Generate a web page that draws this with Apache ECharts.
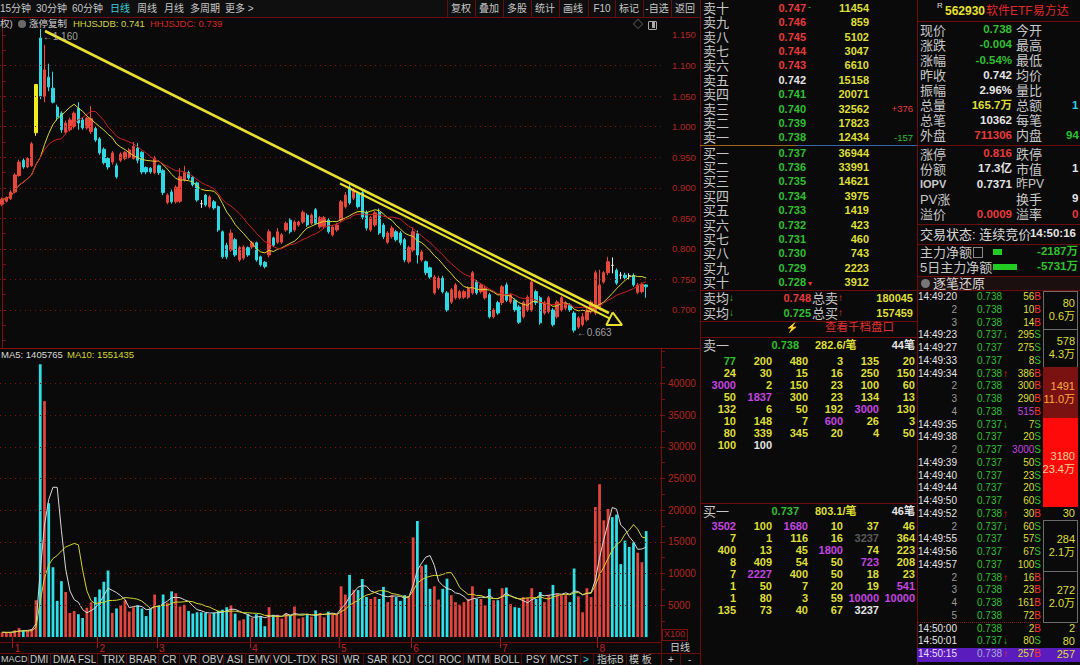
<!DOCTYPE html>
<html><head><meta charset="utf-8">
<script src="https://cdn.jsdelivr.net/npm/echarts@6/dist/echarts.min.js"></script>
<style>
html,body{margin:0;padding:0;background:#0a0a0a;}
#wrap{position:relative;width:1080px;height:665px;overflow:hidden;background:#0a0a0a;}
#chart{position:absolute;left:0;top:0;width:700px;height:665px;}
#ui{position:absolute;left:0;top:0;width:1080px;height:665px;pointer-events:none;overflow:hidden;}
.t{position:absolute;white-space:nowrap;font-family:'Liberation Sans','Noto Sans CJK SC',sans-serif;}
</style></head><body><div id="wrap"><div id="chart"></div><div id="ui"></div></div>
<script>
// ---------------- DATA ----------------
const opens = [
0.873,0.878,0.882,0.893,0.920,0.945,0.934,0.936,0.990,1.145,
1.049,1.081,1.063,1.032,1.022,0.991,0.995,1.000,1.030,1.011,
0.998,0.992,0.997,0.980,0.963,0.948,0.942,0.936,0.945,0.948,
0.950,0.948,0.965,0.958,0.933,0.932,0.925,0.936,0.928,0.876,
0.893,0.877,0.878,0.913,0.925,0.917,0.908,0.874,0.888,0.869,
0.877,0.869,0.828,0.806,0.798,0.815,0.782,0.785,0.802,0.803,
0.810,0.787,0.778,0.790,0.818,0.811,0.811,0.831,0.847,0.831,
0.839,0.844,0.855,0.842,0.864,0.836,0.837,0.847,0.823,0.831,
0.847,0.869,0.901,0.883,0.891,0.892,0.860,0.831,0.839,0.860,
0.839,0.811,0.820,0.828,0.826,0.815,0.779,0.798,0.825,0.782,
0.779,0.769,0.728,0.736,0.752,0.728,0.713,0.720,0.720,0.721,
0.721,0.728,0.746,0.730,0.720,0.725,0.689,0.712,0.712,0.741,
0.713,0.716,0.705,0.689,0.700,0.700,0.730,0.720,0.695,0.697,
0.700,0.689,0.700,0.703,0.708,0.695,0.672,0.676,0.684,0.697,
0.695,0.705,0.746,0.761,0.773,0.765,0.757,0.757,0.756,0.756,
0.729,0.730,0.741];
const closes = [
0.881,0.884,0.893,0.921,0.942,0.934,0.948,0.972,1.069,1.050,
1.093,1.065,1.040,1.016,0.995,1.006,1.011,1.022,1.006,0.998,
1.014,1.013,0.978,0.957,0.941,0.934,0.957,0.918,0.955,0.958,
0.962,0.968,0.945,0.926,0.926,0.926,0.948,0.925,0.892,0.888,
0.877,0.901,0.918,0.925,0.916,0.905,0.880,0.874,0.872,0.885,
0.867,0.831,0.787,0.787,0.826,0.790,0.802,0.803,0.790,0.810,
0.782,0.774,0.771,0.828,0.806,0.828,0.823,0.842,0.828,0.844,
0.844,0.860,0.839,0.855,0.842,0.851,0.851,0.828,0.836,0.839,
0.877,0.888,0.875,0.896,0.869,0.852,0.834,0.851,0.859,0.826,
0.820,0.826,0.834,0.815,0.810,0.782,0.802,0.828,0.790,0.795,
0.761,0.754,0.754,0.752,0.730,0.700,0.733,0.741,0.730,0.730,
0.736,0.761,0.728,0.741,0.736,0.689,0.700,0.695,0.738,0.716,
0.725,0.700,0.680,0.712,0.721,0.746,0.712,0.679,0.712,0.720,
0.676,0.713,0.720,0.712,0.700,0.667,0.687,0.689,0.700,0.713,
0.761,0.741,0.761,0.779,0.773,0.744,0.757,0.753,0.756,0.741,
0.741,0.742,0.738];
const lows = [
0.870,0.876,0.880,0.891,0.918,0.931,0.932,0.934,0.985,1.045,
1.040,1.058,1.038,1.010,0.990,0.988,0.992,0.997,0.995,0.995,
0.995,0.988,0.975,0.954,0.938,0.930,0.938,0.915,0.942,0.945,
0.948,0.946,0.940,0.922,0.922,0.923,0.922,0.921,0.888,0.873,
0.874,0.874,0.875,0.910,0.913,0.902,0.877,0.867,0.869,0.866,
0.864,0.828,0.784,0.783,0.795,0.787,0.779,0.782,0.787,0.800,
0.779,0.771,0.768,0.786,0.803,0.808,0.808,0.828,0.825,0.828,
0.836,0.841,0.836,0.839,0.839,0.833,0.834,0.825,0.820,0.828,
0.844,0.866,0.872,0.880,0.866,0.848,0.830,0.828,0.836,0.823,
0.816,0.808,0.817,0.812,0.806,0.778,0.776,0.795,0.776,0.779,
0.757,0.751,0.725,0.733,0.727,0.697,0.710,0.717,0.717,0.718,
0.718,0.725,0.725,0.727,0.717,0.686,0.686,0.692,0.708,0.713,
0.710,0.697,0.677,0.686,0.697,0.697,0.708,0.676,0.692,0.694,
0.673,0.686,0.697,0.700,0.697,0.663,0.669,0.673,0.681,0.694,
0.692,0.700,0.743,0.757,0.760,0.741,0.750,0.750,0.750,0.738,
0.726,0.727,0.720];
const highs = [
0.884,0.886,0.896,0.924,0.946,0.948,0.950,0.975,1.069,1.160,
1.134,1.103,1.090,1.036,1.025,1.010,1.015,1.025,1.040,1.015,
1.016,1.034,1.000,0.983,0.966,0.950,0.960,0.940,0.958,0.960,
0.965,0.975,0.973,0.960,0.935,0.934,0.952,0.938,0.931,0.891,
0.897,0.904,0.932,0.936,0.928,0.919,0.910,0.880,0.890,0.888,
0.880,0.871,0.830,0.810,0.832,0.818,0.805,0.806,0.804,0.813,
0.812,0.789,0.780,0.832,0.820,0.834,0.826,0.845,0.850,0.847,
0.846,0.863,0.858,0.858,0.867,0.854,0.854,0.850,0.839,0.842,
0.880,0.893,0.907,0.899,0.894,0.895,0.863,0.854,0.862,0.866,
0.842,0.829,0.838,0.831,0.829,0.818,0.805,0.835,0.830,0.798,
0.781,0.771,0.757,0.756,0.756,0.731,0.736,0.744,0.733,0.733,
0.739,0.764,0.749,0.744,0.739,0.728,0.703,0.715,0.741,0.745,
0.728,0.719,0.708,0.715,0.724,0.751,0.733,0.723,0.715,0.723,
0.703,0.716,0.723,0.715,0.711,0.698,0.690,0.695,0.703,0.716,
0.765,0.766,0.764,0.787,0.786,0.768,0.762,0.761,0.760,0.760,
0.744,0.745,0.742];
const volumes = [
750,700,750,1050,1400,1050,950,1250,5800,43000,
37200,21100,11000,5700,8800,7100,3800,4100,3600,3000,
4600,5500,6300,7500,8700,10500,3800,4500,5000,5800,
4000,4700,5000,4500,3300,4500,6700,5000,6700,5400,
7200,6900,4800,5100,4100,3700,3900,3900,3800,3600,
3800,4100,4300,4700,5000,3700,2600,2800,3600,3000,
3600,3300,1700,4700,3500,3500,2900,3800,3500,4800,
2900,3100,3500,3200,4200,3800,3100,4000,3700,3500,
8000,6700,9800,7400,7400,9150,6300,6000,6300,6000,
7900,5500,6600,6300,5700,6600,6400,15700,18300,11200,
11400,7600,8000,5900,7600,9200,6600,5500,5100,5500,
6000,8000,6000,6000,5000,7600,5800,5800,7700,7800,
5200,4700,4600,6300,6200,7700,6000,7100,5500,6600,
8200,6800,6600,6600,5500,10800,6400,3900,7700,6300,
20500,24100,18400,20200,18900,19300,11500,15200,14200,14900,
13300,11800,16700];
const limitUpDays = [8];
const monthStarts = [3, 23, 37, 59, 80, 97, 118, 141];
const monthNames = ['1','2','3','4','5','6','7','8'];
const priceLabels = [0.70,0.75,0.80,0.85,0.90,0.95,1.00,1.05,1.10,1.15];
const priceTicks = [0.650,0.675,0.700,0.725,0.750,0.775,0.800,0.825,0.850,0.875,0.900,0.925,0.950,0.975,1.000,1.025,1.050,1.075,1.100,1.125,1.150,1.175];
const priceGridVals = [0.70,0.75,0.80,0.85,0.90,0.95,1.00,1.05,1.10];
const volLabels = [5000,10000,15000,20000,25000,30000,35000,40000];
const volTicks = [2500,5000,7500,10000,12500,15000,17500,20000,22500,25000,27500,30000,32500,35000,37500,40000,42500,45000];
// user-drawn trend lines, in [candle index, price]
const trendA = [[10.12, 1.1565], [143.2, 0.6951]];
const trendB = [[79.74, 0.9070], [143.35, 0.6862]];
const arrowHead = [[144.1, 0.6961], [146.3, 0.6755], [142.6, 0.6755], [144.1, 0.6961]];

// ---------------- CHART ----------------
const N_SLOTS = 156;
const PRICE_MIN = 0.6378, PRICE_MAX = 1.1778, VOL_MAX = 45580;
const RED = '#e8473c', CYAN = '#2fd8e2', YELLOW_BAR = '#f0ec1c';
const AXR = '#7a1010';
const FF = "'Liberation Sans','Noto Sans CJK SC',sans-serif";

const cats = [], monthAt = [];
for (let i = 0; i < N_SLOTS; i++) {
  cats.push('d' + i);
  const k = monthStarts.indexOf(i);
  monthAt.push(k >= 0 ? monthNames[k] : '');
}
const isStart = (i) => monthStarts.indexOf(i) >= 0;

function ma(arr, n) {
  return arr.map((_, i) => {
    const s = Math.max(0, i - n + 1);
    let sum = 0;
    for (let k = s; k <= i; k++) sum += arr[k];
    return +(sum / (i - s + 1)).toFixed(4);
  });
}

const candleData = opens.map((o, i) => {
  const v = [o, closes[i], lows[i], highs[i]];
  if (limitUpDays.indexOf(i) >= 0) {
    return {value: v, itemStyle: {color: YELLOW_BAR, color0: YELLOW_BAR, borderColor: YELLOW_BAR, borderColor0: YELLOW_BAR}};
  }
  return v;
});
const volData = volumes.map((v, i) => ({
  value: v,
  itemStyle: {color: closes[i] > opens[i] ? '#e2453b' : '#2fe0e8'}
}));

const hiIdx = highs.indexOf(Math.max.apply(null, highs));
const loIdx = lows.indexOf(Math.min.apply(null, lows));

const chart = echarts.init(document.getElementById('chart'), null, {renderer: 'svg', width: 700, height: 665});
chart.setOption({
  backgroundColor: 'transparent',
  animation: false,
  textStyle: {fontFamily: FF},
  grid: [
    {left: 0, top: 18, width: 661, height: 330},
    {left: 0, top: 348, width: 661, height: 289}
  ],
  xAxis: [
    {type: 'category', gridIndex: 0, data: cats, boundaryGap: true, show: false},
    {type: 'category', gridIndex: 1, data: cats, boundaryGap: true, offset: 5,
      axisLine: {show: false},
      axisTick: {show: true, interval: (i) => isStart(i), length: 11, lineStyle: {color: '#a81a1a'}},
      axisLabel: {interval: (i) => isStart(i), formatter: (v, i) => monthAt[i], color: '#c42020', fontSize: 10, margin: 1, align: 'left'},
      splitLine: {show: false}},
    {type: 'value', gridIndex: 0, min: -0.5, max: N_SLOTS - 0.5, show: false}
  ],
  yAxis: [
    {type: 'value', gridIndex: 0, position: 'right', min: PRICE_MIN, max: PRICE_MAX,
      axisLine: {show: true, lineStyle: {color: AXR}},
      axisTick: {show: true, length: 4, customValues: priceTicks, lineStyle: {color: AXR}},
      axisLabel: {customValues: priceLabels, formatter: (v) => v.toFixed(3), color: '#b4261e', fontSize: 9.5, margin: 11},
      splitLine: {show: false}},
    {type: 'value', gridIndex: 1, position: 'right', min: 0, max: VOL_MAX,
      axisLine: {show: true, lineStyle: {color: AXR}},
      axisTick: {show: true, length: 4, customValues: volTicks, lineStyle: {color: AXR}},
      axisLabel: {customValues: volLabels, formatter: (v) => String(v), color: '#b4261e', fontSize: 10, margin: 7},
      splitLine: {show: false}}
  ],
  series: [
    {type: 'candlestick', xAxisIndex: 0, yAxisIndex: 0, data: candleData, barWidth: '68%',
      itemStyle: {color: RED, color0: CYAN, borderColor: RED, borderColor0: CYAN, borderColorDoji: '#e6e6e6', borderWidth: 1},
      markLine: {silent: true, symbol: ['none', 'none'], animation: false, label: {show: false},
        lineStyle: {color: '#7a1717', type: [1, 4], width: 1},
        data: priceGridVals.map((v) => ({yAxis: v}))}},
    {type: 'line', name: 'HHJSJDB', xAxisIndex: 0, yAxisIndex: 0, data: ma(closes, 10), symbol: 'none', silent: true,
      lineStyle: {color: '#d8d830', width: 1}, z: 3},
    {type: 'line', name: 'HHJSJDC', xAxisIndex: 0, yAxisIndex: 0, data: ma(closes, 15), symbol: 'none', silent: true,
      lineStyle: {color: '#cc2222', width: 1}, z: 3},
    {type: 'line', xAxisIndex: 2, yAxisIndex: 0, data: trendA, symbol: 'none', silent: true,
      lineStyle: {color: '#e8e02c', width: 2.6}, z: 6},
    {type: 'line', xAxisIndex: 2, yAxisIndex: 0, data: trendB, symbol: 'none', silent: true,
      lineStyle: {color: '#e8e02c', width: 2}, z: 6},
    {type: 'line', xAxisIndex: 2, yAxisIndex: 0, data: arrowHead, symbol: 'none', silent: true,
      lineStyle: {color: '#e8e02c', width: 2}, z: 6},
    {type: 'scatter', xAxisIndex: 2, yAxisIndex: 0, symbolSize: 1, silent: true, z: 7,
      itemStyle: {color: 'rgba(0,0,0,0)'},
      label: {show: true, position: 'right', distance: 1, color: '#c8c8c8', fontSize: 10,
        formatter: (p) => '\u2190' + p.value[1].toFixed(3)},
      data: [
        {value: [hiIdx, highs[hiIdx]], label: {offset: [1, 8]}},
        {value: [loIdx, lows[loIdx]], label: {offset: [1, 0]}}
      ]},
    {type: 'bar', xAxisIndex: 1, yAxisIndex: 1, data: volData, barWidth: '65%',
      markLine: {silent: true, symbol: ['none', 'none'], animation: false, label: {show: false},
        lineStyle: {color: '#7a1717', type: [1, 4], width: 1},
        data: volLabels.map((v) => ({yAxis: v}))}},
    {type: 'line', xAxisIndex: 1, yAxisIndex: 1, data: ma(volumes, 5), symbol: 'none', silent: true,
      lineStyle: {color: '#d8d8d8', width: 1}, z: 3},
    {type: 'line', xAxisIndex: 1, yAxisIndex: 1, data: ma(volumes, 10), symbol: 'none', silent: true,
      lineStyle: {color: '#d4d42c', width: 1}, z: 3}
  ]
});

// ---------------- PANELS (HTML text) ----------------
const ui = document.getElementById('ui');
function t(x, y, s, color, o) {
  o = o || {};
  const d = document.createElement('div');
  d.className = 't';
  const fs = o.fs || 11, lh = fs + 4;
  if (Array.isArray(s)) {
    s.forEach((seg) => { const sp = document.createElement('span'); sp.textContent = seg[0]; sp.style.color = seg[1]; d.appendChild(sp); });
  } else { d.textContent = s; d.style.color = color; }
  let css = 'font-size:' + fs + 'px;line-height:' + lh + 'px;height:' + lh + 'px;top:' + (y - lh / 2).toFixed(1) + 'px;';
  if (o.b) css += 'font-weight:bold;';
  if (o.a === 'r') css += 'right:' + (1080 - x) + 'px;';
  else if (o.a === 'c') css += 'left:' + x + 'px;transform:translateX(-50%);';
  else css += 'left:' + x + 'px;';
  d.style.cssText += css;
  ui.appendChild(d);
}
function r(x, y, w, h, bg, extra) {
  const d = document.createElement('div');
  d.style.cssText = 'position:absolute;left:' + x + 'px;top:' + y + 'px;width:' + w + 'px;height:' + h + 'px;background:' + bg + ';' + (extra || '');
  ui.appendChild(d);
}
const L = '#6e0c0c';
const GY = '#c8c8c8', YL = '#dede36', GN = '#30c030', WH = '#e4e4e4', PU = '#c444e0', RD = '#e83a3a';

// toolbar
r(0, 0, 700, 17, '#0f0f0f');
r(0, 17, 700, 1, L);
const tbLeft = [['15分钟', 0, GY], ['30分钟', 36, GY], ['60分钟', 72, GY], ['日线', 110, '#3ccfdc'], ['周线', 137, GY], ['月线', 164, GY], ['多周期', 190, GY], ['更多 >', 225, GY]];
tbLeft.forEach((a) => t(a[1], 8.5, a[0], a[2], {fs: 10}));
const tbRight = [['复权', 461], ['叠加', 489], ['多股', 517], ['统计', 545], ['画线', 573], ['F10', 602], ['标记', 629], ['-自选', 657], ['返回', 685]];
[447, 475, 503, 531, 559, 588, 615, 643, 671].forEach((x) => r(x, 0, 1, 17, '#6a0c0c'));
tbRight.forEach((a) => t(a[1], 8.5, a[0], GY, {fs: 10, a: 'c'}));

// chart legends
t(0, 24, '权)', GY, {fs: 9.5});
r(18, 20, 8, 8, '#6a6a6a', 'border-radius:50%;');
t(29, 24, '涨停复制', '#d0d0d0', {fs: 9.5});
t(73, 24, 'HHJSJDB: 0.741', '#d6d63a', {fs: 9.5});
t(150, 24, 'HHJSJDC: 0.739', '#d42828', {fs: 9.5});
t(633, 25, '\u25C7', '#aaaaaa', {fs: 10});
r(648, 21, 7, 7, 'transparent', 'border:1px solid #aaa;border-radius:1px;');
r(652, 22, 3, 6, '#aaa');
r(0, 348, 700, 1, '#8a1010');
t(1, 355, 'MA5: 1405765', '#d8d8d8', {fs: 9.5});
t(67, 355, 'MA10: 1551435', '#d4d430', {fs: 9.5});
// volume axis extras, date strip, tabs
r(662, 629, 24, 10, 'transparent', 'border:1px solid #7a1010;');
t(664, 634.5, 'X100', '#b02020', {fs: 9});
r(0, 642, 661, 1, L);
r(0, 653, 700, 1, L);
r(661, 637, 1, 28, L);
t(670, 648, '日线', '#d0d0d0', {fs: 10});
const tabs = [['DMI', 30], ['DMA', 53], ['FSL', 78], ['TRIX', 102], ['BRAR', 129], ['CR', 162], ['VR', 183], ['OBV', 202], ['ASI', 227], ['EMV', 248], ['VOL-TDX', 273], ['RSI', 321], ['WR', 343], ['SAR', 367], ['KDJ', 392], ['CCI', 417], ['ROC', 439], ['MTM', 467], ['BOLL', 494], ['PSY', 526], ['MCST', 550]];
t(1, 659.5, 'MACD', GY, {fs: 9});
tabs.forEach((a) => t(a[1], 659.5, a[0], GY, {fs: 10}));
[28, 50, 75, 97, 126, 158, 179, 199, 223, 245, 270, 318, 339, 363, 388, 413, 436, 463, 490, 521, 546, 580, 593, 626, 680].forEach((x) => r(x, 654, 1, 11, '#5a0a0a'));
t(583, 659.5, '>', '#30d0e0', {fs: 10});
t(597, 659.5, '指标B', GY, {fs: 10});
t(629, 659.5, '模 板', GY, {fs: 10});
t(668, 659.5, '+', GY, {fs: 10});
t(688, 659.5, '-', GY, {fs: 10});

// panel frames
r(700, 0, 1, 665, L);
r(917, 0, 1, 665, L);

// order book
const prevClose = 0.742;
const askLabels = ['卖十', '卖九', '卖八', '卖七', '卖六', '卖五', '卖四', '卖三', '卖二', '卖一'];
const askPrices = [0.747, 0.746, 0.745, 0.744, 0.743, 0.742, 0.741, 0.740, 0.739, 0.738];
const askVols = [11454, 859, 5102, 3047, 6610, 15158, 20071, 32562, 17823, 12434];
const bidLabels = ['买一', '买二', '买三', '买四', '买五', '买六', '买七', '买八', '买九', '买十'];
const bidPrices = [0.737, 0.736, 0.735, 0.734, 0.733, 0.732, 0.731, 0.730, 0.729, 0.728];
const bidVols = [36944, 33991, 14621, 3975, 1419, 423, 460, 743, 2223, 3912];
const pc = (p) => p > prevClose ? RD : (p < prevClose ? GN : WH);
askLabels.forEach((lab, k) => {
  const y = 8.3 + k * 14.4;
  t(703, y, lab, GY, {fs: 13});
  t(806, y, askPrices[k].toFixed(3), pc(askPrices[k]), {fs: 11, b: 1, a: 'r'});
  t(869, y, String(askVols[k]), YL, {fs: 11, b: 1, a: 'r'});
});
bidLabels.forEach((lab, k) => {
  const y = 153 + k * 14.4;
  t(703, y, lab, GY, {fs: 13});
  t(806, y, bidPrices[k].toFixed(3), pc(bidPrices[k]), {fs: 11, b: 1, a: 'r'});
  t(869, y, String(bidVols[k]), YL, {fs: 11, b: 1, a: 'r'});
});
t(808, 7, '-', GN, {fs: 9});
t(808, 284, '\u25BE', RD, {fs: 8});
t(913, 109, '+376', RD, {fs: 9.5, a: 'r'});
t(913, 138, '-157', GN, {fs: 9.5, a: 'r'});
r(700, 145, 97, 1, '#a0641e');
r(797, 145, 120, 1, '#3a64a8');
r(700, 290, 217, 1, L);
t(703, 298, '卖均', GY, {fs: 13});
t(729, 298, '\u2193', GN, {fs: 10, b: 1});
t(811, 298, '0.748', RD, {fs: 11, b: 1, a: 'r'});
t(812, 298, '总卖', GY, {fs: 13});
t(838, 298, '\u2191', RD, {fs: 10, b: 1});
t(913, 298, '180045', YL, {fs: 11, b: 1, a: 'r'});
t(703, 313, '买均', GY, {fs: 13});
t(729, 313, '\u2193', GN, {fs: 10, b: 1});
t(811, 313, '0.725', GN, {fs: 11, b: 1, a: 'r'});
t(812, 313, '总买', GY, {fs: 13});
t(838, 313, '\u2191', RD, {fs: 10, b: 1});
t(913, 313, '157459', YL, {fs: 11, b: 1, a: 'r'});
r(700, 321, 217, 1, L);
t(786, 328, '\u26A1', '#8a7a30', {fs: 10});
t(825, 328, '查看千档盘口', '#e03030', {fs: 11.5});
r(700, 337, 217, 1, L);

// queue detail
const askQueue = [[77, 200, 480, 3, 135, 20], [24, 30, 15, 16, 250, 150], [3000, 2, 150, 23, 100, 60], [50, 1837, 300, 23, 134, 13], [132, 6, 50, 192, 3000, 130], [10, 148, 7, 600, 26, 3], [80, 339, 345, 20, 4, 50], [100, 100]];
const bidQueue = [[3502, 100, 1680, 10, 37, 46], [7, 1, 116, 16, 3237, 364], [400, 13, 45, 1800, 74, 223], [8, 409, 54, 50, 723, 208], [7, 2227, 400, 50, 18, 23], [1, 50, 7, 20, 19, 541], [1, 80, 3, 59, 10000, 10000], [135, 73, 40, 67, 3237]];
const askQueueSpecial = {'0,0': GN, '7,1': WH};
const bidQueueSpecial = {'1,4': '#5a5a5a', '7,4': WH};
const qCols = [736, 772, 808, 843, 879, 915];
function drawQueue(q, special, y0) {
  q.forEach((row, ri) => row.forEach((v, ci) => {
    const c = special[ri + ',' + ci] || (v >= 500 ? PU : YL);
    t(qCols[ci], y0 + ri * 12, String(v), c, {fs: 11, b: 1, a: 'r'});
  }));
}
t(703, 345, '卖一', GY, {fs: 13});
t(799, 345, '0.738', GN, {fs: 11, b: 1, a: 'r'});
t(815, 345, '282.6/笔', YL, {fs: 11, b: 1});
t(915, 345, '44笔', WH, {fs: 11, b: 1, a: 'r'});
drawQueue(askQueue, askQueueSpecial, 361);
r(700, 503, 217, 1, L);
t(703, 511, '买一', GY, {fs: 13});
t(799, 511, '0.737', GN, {fs: 11, b: 1, a: 'r'});
t(815, 511, '803.1/笔', YL, {fs: 11, b: 1});
t(915, 511, '46笔', WH, {fs: 11, b: 1, a: 'r'});
drawQueue(bidQueue, bidQueueSpecial, 526);

// quote panel
t(937, 6, 'R', '#dddddd', {fs: 8});
t(945, 11, '562930', '#e8e030', {fs: 12, b: 1});
t(986, 11, '软件ETF易方达', '#e02828', {fs: 12});
r(917, 21, 163, 1, L);
const quoteA = [['现价', '0.738', GN, '今开'], ['涨跌', '-0.004', GN, '最高'], ['涨幅', '-0.54%', GN, '最低'], ['昨收', '0.742', WH, '均价'], ['振幅', '2.96%', WH, '量比'], ['总量', '165.7万', YL, '总额'], ['总笔', '10362', WH, '每笔'], ['外盘', '711306', RD, '内盘']];
const quoteB = [['涨停', '0.816', RD, '跌停'], ['份额', '17.3亿', WH, '市值'], ['IOPV', '0.7371', WH, '昨PV'], ['PV涨', '', WH, '换手'], ['溢价', '0.0009', RD, '溢率']];
const quoteEdge = [[106, '1', '#30d0e0', 1072], [136, '94', GN, 1066], [169, '1', WH, 1072], [199, '9', WH, 1072], [215, '0', RD, 1072]];
quoteA.forEach((q, k) => {
  const y = 30 + k * 15.1;
  t(920, y, q[0], GY, {fs: 13});
  t(1012, y, q[1], q[2], {fs: 11.5, b: 1, a: 'r'});
  t(1016, y, q[3], GY, {fs: 13});
});
r(917, 145, 163, 1, L);
quoteB.forEach((q, k) => {
  const y = 154 + k * 15.2;
  t(920, y, q[0], GY, {fs: q[0] === 'IOPV' ? 11 : 13, b: q[0] === 'IOPV' ? 1 : 0});
  t(1012, y, q[1], q[2], {fs: 11.5, b: 1, a: 'r'});
  t(1016, y, q[3], GY, {fs: q[3] === '昨PV' ? 12 : 13});
});
quoteEdge.forEach((e) => t(e[3], e[0], e[1], e[2], {fs: 11.5, b: 1}));
r(917, 224, 163, 1, L);
t(920, 234, '交易状态: 连续竞价', '#d8d8d8', {fs: 13});
t(1076, 234, '14:50:16', WH, {fs: 11.5, b: 1, a: 'r'});
r(917, 244, 163, 1, L);
t(920, 252, '主力净额', GY, {fs: 13});
r(973, 247, 8, 9, 'transparent', 'border:1px solid #888;');
r(993, 249, 9, 6, '#22cc22');
t(1078, 252, '-2187万', GN, {fs: 11.5, b: 1, a: 'r'});
t(920, 267, '5日主力净额', GY, {fs: 13});
r(993, 264, 24, 6, '#22cc22');
t(1078, 267, '-5731万', GN, {fs: 11.5, b: 1, a: 'r'});
r(917, 276, 163, 1, L);
r(918, 277, 162, 14, '#1c0f0f');
r(921, 279, 9, 9, '#777', 'border-radius:50%;');
t(933, 283.5, '逐笔还原', '#d6d6d6', {fs: 13});
r(917, 290, 163, 1, L);

// tick-by-tick list
const tickTimes = ['14:49:20', '2', '3', '14:49:23', '14:49:27', '14:49:33', '14:49:34', '2', '3', '4', '14:49:35', '14:49:38', '2', '14:49:39', '14:49:40', '14:49:44', '14:49:50', '14:49:52', '2', '14:49:55', '14:49:56', '14:49:57', '2', '3', '4', '5', '14:50:00', '14:50:01', '14:50:15'];
const tickPrices = ['0.738', '0.738', '0.738', '0.737', '0.737', '0.737', '0.738', '0.738', '0.738', '0.738', '0.737', '0.737', '0.737', '0.737', '0.737', '0.737', '0.737', '0.738', '0.737', '0.737', '0.737', '0.737', '0.738', '0.738', '0.738', '0.738', '0.738', '0.737', '0.738'];
const tickArrows = ['', '', '', 'd', '', '', 'u', '', '', '', 'd', '', '', '', '', '', '', 'u', 'd', '', '', '', 'u', '', '', '', '', 'd', 'u'];
const tickVols = [56, 10, 14, 295, 275, 8, 386, 300, 290, 515, 7, 20, 3000, 50, 23, 20, 60, 30, 60, 57, 67, 100, 16, 23, 161, 72, 2, 80, 257];
const tickSides = ['B', 'B', 'B', 'S', 'S', 'S', 'B', 'B', 'B', 'B', 'S', 'S', 'S', 'S', 'S', 'S', 'S', 'B', 'S', 'S', 'S', 'S', 'B', 'B', 'B', 'B', 'B', 'S', 'B'];
const tickGroups = [[0, 2, '80', '0.6万', ''], [3, 5, '578', '4.3万', ''], [6, 9, '1491', '11.0万', 'dark'], [10, 16, '3180', '23.4万', 'red'], [17, 17, '30', '', ''], [18, 21, '284', '2.1万', ''], [22, 25, '272', '2.0万', ''], [26, 26, '2', '', ''], [27, 27, '80', '', ''], [28, 28, '257', '', '']];
const rowY = (k) => 297 + k * 12.75;
r(917, rowY(28) - 6.5, 163, 14, '#5a1cbc');
r(917, rowY(25.5), 124, 1, 'transparent', 'border-top:1px dotted #7a1a1a;');
tickGroups.forEach((g) => {
  const top = rowY(g[0]) - 6.4, bot = rowY(g[1]) + 6.4;
  const multi = g[1] > g[0];
  let col = YL;
  if (g[4] === 'dark') { r(1043, top, 35, bot - top, '#7a1212'); col = '#ffaa3a'; }
  else if (g[4] === 'red') { r(1043, top, 35, bot - top, '#ff0a0a'); col = '#ffd09a'; }
  else if (multi) { r(1043, top, 33, bot - top - 1, 'transparent', 'border:1px solid #6c6c6c;'); }
  const mid = (top + bot) / 2;
  if (g[3]) { t(1075, mid - 6.5, g[2], col, {fs: 11, a: 'r'}); t(1075, mid + 6.5, g[3], col, {fs: 11, a: 'r'}); }
  else t(1075, mid, g[2], col, {fs: 11, a: 'r'});
});
tickTimes.forEach((tm, k) => {
  const y = rowY(k);
  const last = k === tickTimes.length - 1;
  t(957, y, tm, tm.length > 2 ? (last ? '#e8dcff' : WH) : '#9a9a9a', {fs: 10, a: 'r'});
  t(977, y, tickPrices[k], last ? '#a8a8d8' : GN, {fs: 10});
  if (tickArrows[k]) t(1003, y, tickArrows[k] === 'u' ? '\u2191' : '\u2193', tickArrows[k] === 'u' ? '#ff2020' : GN, {fs: 10, b: 1});
  const vc = tickVols[k] >= 500 ? PU : YL;
  t(1041, y, [[String(tickVols[k]), vc], [tickSides[k], tickSides[k] === 'B' ? '#ff3030' : GN]], null, {fs: 10, a: 'r'});
});
</script></body></html>
